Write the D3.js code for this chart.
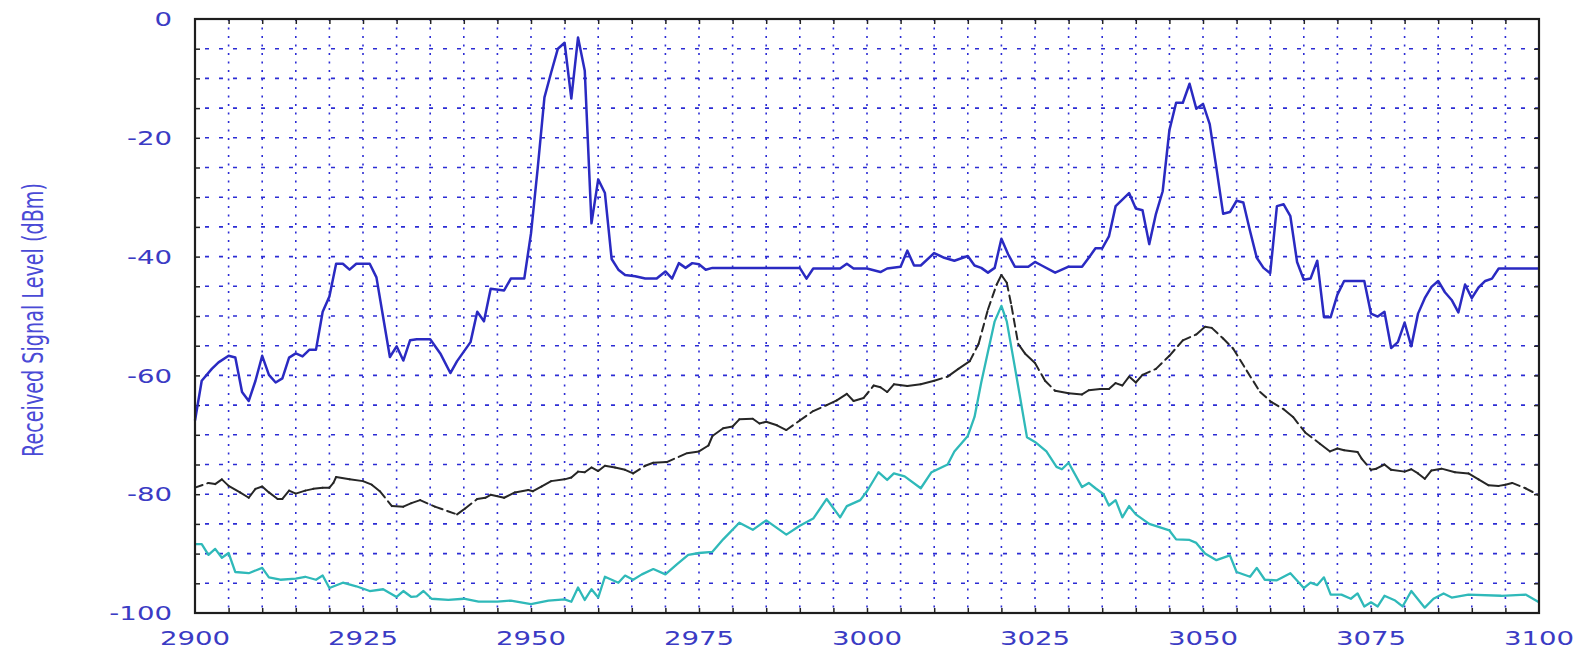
<!DOCTYPE html>
<html>
<head>
<meta charset="utf-8">
<script src="https://cdn.jsdelivr.net/npm/d3@7"></script>
<style>
  body { margin: 0; background: #fff; }
  svg { display: block; }
</style>
</head>
<body>
<div id="chart"></div>
<script>
// frequency (MHz), level (dBm)
const bluePts = [
  [2900,-67.6],[2901,-60.9],[2902.5,-58.9],[2903.5,-57.8],[2905,-56.7],[2906,-57.0],[2907,-62.8],[2908,-64.3],
  [2909,-60.9],[2910,-56.7],[2911,-59.9],[2912,-61.2],[2913,-60.5],[2914,-57.0],[2915,-56.3],[2916,-56.8],
  [2917,-55.7],[2918,-55.7],[2919,-49.3],[2920,-46.7],[2921,-41.2],[2922,-41.2],[2923,-42.2],[2924,-41.2],
  [2926,-41.2],[2927,-43.5],[2928,-50.2],[2929,-56.9],[2930,-55.1],[2931,-57.5],[2932,-54.1],[2933,-53.9],
  [2935,-53.9],[2936.5,-56.3],[2938,-59.6],[2939,-57.6],[2941,-54.4],[2942,-49.3],[2943,-50.9],[2944,-45.4],
  [2946,-45.7],[2947,-43.7],[2949,-43.7],[2950,-36.1],[2951,-25.1],[2952,-13.2],[2953,-9.0],[2954,-5.0],
  [2955,-4.0],[2956,-13.4],[2957,-3.1],[2958,-8.7],[2959,-34.4],[2960,-27.0],[2961,-29.3],[2962,-40.4],
  [2963,-42.2],[2964,-43.1],[2965.5,-43.3],[2967,-43.7],[2968.7,-43.7],[2970,-42.5],[2971,-43.7],[2972,-41.1],
  [2973,-41.9],[2974,-41.1],[2975,-41.3],[2976,-42.2],[2977,-41.9],[2990,-41.9],[2991,-43.7],[2992,-42.0],
  [2996,-42.0],[2997,-41.2],[2998,-42.0],[3000,-42.0],[3002,-42.6],[3003,-42.0],[3005,-41.7],[3006,-39.0],
  [3007,-41.5],[3008,-41.5],[3010,-39.4],[3011.5,-40.2],[3013,-40.7],[3015,-39.9],[3016,-41.5],[3017,-41.9],
  [3018,-42.7],[3019,-41.9],[3020,-37.0],[3021,-39.6],[3022,-41.7],[3024,-41.7],[3025,-40.9],[3026,-41.5],
  [3028,-42.7],[3030,-41.7],[3032,-41.7],[3033,-40.2],[3034,-38.6],[3035,-38.6],[3036,-36.6],[3037,-31.5],
  [3039,-29.3],[3040,-31.9],[3041,-32.2],[3042,-37.9],[3043,-32.8],[3044,-29.0],[3045,-18.7],[3046,-14.1],
  [3047,-14.1],[3048,-10.9],[3049,-15.1],[3050,-14.3],[3051,-17.7],[3052,-25.1],[3053,-32.8],[3054,-32.5],
  [3055,-30.6],[3056,-30.9],[3057,-35.7],[3058,-40.2],[3059,-41.9],[3060,-42.8],[3061,-31.5],[3062,-31.2],
  [3063,-33.2],[3064,-40.9],[3065,-43.9],[3066,-43.7],[3067,-40.7],[3068,-50.2],[3069,-50.2],[3070,-46.4],
  [3071,-44.1],[3074,-44.1],[3075,-49.6],[3076,-50.1],[3077,-49.3],[3078,-55.4],[3079,-54.4],[3080,-51.1],
  [3081,-55.1],[3082,-49.6],[3083,-47.0],[3084,-45.1],[3085,-44.1],[3086,-46.0],[3087,-47.3],[3088,-49.4],
  [3089,-44.7],[3090,-47.0],[3091,-45.2],[3092,-44.1],[3093,-43.7],[3094,-42.0],[3100,-42.0]
];

const blackPts = [
  [2900,-78.9],[2902,-78.1],[2903,-78.3],[2904,-77.5],[2905,-78.6],[2906.7,-79.7],[2908,-80.6],[2909,-79.1],
  [2910,-78.7],[2911,-79.7],[2912.3,-80.8],[2913,-80.8],[2914,-79.4],[2915,-79.9],[2916.4,-79.4],[2917.6,-79.1],
  [2919,-78.9],[2920,-78.9],[2920.6,-78.1],[2921,-77.1],[2923,-77.5],[2925,-77.8],[2926.3,-78.4],[2927.5,-79.5],
  [2929.3,-82.0],[2931,-82.1],[2932.2,-81.5],[2933.5,-81.0],[2935.7,-82.1],[2939,-83.4],[2940.2,-82.4],[2942,-80.8],
  [2943.2,-80.6],[2944,-80.1],[2946,-80.6],[2947.6,-79.7],[2949.6,-79.3],[2950.3,-79.5],[2951.6,-78.7],[2953,-77.8],
  [2955,-77.5],[2956,-77.2],[2957,-76.2],[2958,-76.3],[2959,-75.5],[2960,-76.1],[2961,-75.2],[2962.5,-75.5],
  [2964,-75.9],[2965.2,-76.5],[2967,-75.2],[2968.2,-74.7],[2970.2,-74.6],[2973.2,-73.1],[2975,-72.8],[2976.4,-71.8],
  [2977,-70.2],[2978.6,-68.9],[2980,-68.6],[2981,-67.4],[2983,-67.3],[2984,-68.1],[2985,-67.8],[2986.6,-68.4],
  [2988,-69.2],[2990,-67.6],[2992,-66.0],[2994,-65.0],[2995.5,-64.2],[2997,-63.1],[2998,-64.3],[2999.5,-63.8],
  [3001,-61.7],[3002,-62.0],[3003,-62.8],[3004,-61.5],[3006,-61.8],[3008,-61.5],[3010,-60.9],[3012,-60.2],
  [3013.6,-58.9],[3015.3,-57.6],[3016.6,-54.7],[3018,-48.9],[3019.3,-44.7],[3020,-43.1],[3020.8,-44.4],[3021.5,-48.3],
  [3022.5,-54.7],[3023.5,-56.3],[3025,-57.9],[3026.5,-60.9],[3028,-62.6],[3030,-63.0],[3032,-63.2],[3033,-62.5],
  [3034.7,-62.3],[3036,-62.3],[3037,-61.3],[3038,-61.7],[3039,-60.2],[3040,-61.2],[3041,-59.9],[3043,-58.9],
  [3045,-56.7],[3047,-54.1],[3049,-53.1],[3050.3,-51.8],[3051.3,-52.0],[3053,-53.8],[3054.5,-55.5],[3056.5,-59.2],
  [3058.5,-62.8],[3060.2,-64.5],[3062,-65.7],[3063.4,-67.0],[3065.2,-69.6],[3067.4,-71.5],[3068.9,-72.8],[3070,-72.3],
  [3071,-72.6],[3073,-72.9],[3073.6,-74.0],[3075,-75.9],[3075.8,-75.7],[3077,-75.0],[3078,-75.9],[3080,-76.2],
  [3081,-75.8],[3082,-76.5],[3083,-77.4],[3084,-76.0],[3085.5,-75.7],[3087.5,-76.3],[3089.5,-76.5],[3091,-77.5],
  [3092.5,-78.5],[3094,-78.6],[3095,-78.4],[3096,-78.1],[3098,-79.0],[3100,-80.2]
];

const cyanPts = [
  [2900,-88.4],[2901,-88.4],[2902,-90.2],[2903,-89.2],[2904,-90.7],[2905,-89.9],[2906,-93.1],[2908,-93.3],
  [2910,-92.4],[2911,-94.0],[2912.7,-94.4],[2915,-94.2],[2916.4,-93.9],[2918,-94.4],[2919,-93.7],[2920,-95.8],
  [2922,-94.9],[2924,-95.5],[2926,-96.3],[2928,-96.0],[2930,-97.3],[2931,-96.3],[2932.2,-97.3],[2933,-97.2],
  [2934,-96.3],[2935.2,-97.6],[2937.7,-97.8],[2940,-97.6],[2942.2,-98.1],[2945,-98.1],[2947,-97.9],[2950,-98.5],
  [2952.6,-97.9],[2955,-97.7],[2956,-98.1],[2957,-95.7],[2958,-97.8],[2959,-96.0],[2960,-97.4],[2961,-93.9],
  [2963,-94.9],[2964,-93.7],[2965.2,-94.4],[2966.5,-93.5],[2968.2,-92.6],[2970,-93.5],[2971.7,-91.8],[2973.4,-90.2],
  [2975,-89.9],[2977,-89.7],[2978.6,-87.6],[2981,-84.8],[2983,-86.0],[2985,-84.4],[2988,-86.8],[2990,-85.3],
  [2992,-84.1],[2994,-80.8],[2996,-83.9],[2997,-82.0],[2999,-81.0],[3000,-79.5],[3001.7,-76.3],[3003,-77.6],
  [3004,-76.5],[3005.6,-77.0],[3008,-79.0],[3009.6,-76.3],[3012,-75.0],[3013,-72.8],[3015,-70.2],[3016,-67.0],
  [3017,-61.2],[3018,-56.0],[3019,-50.9],[3020,-48.3],[3020.8,-50.9],[3021.8,-57.3],[3022.8,-63.8],[3023.8,-70.4],
  [3025,-71.2],[3026.7,-72.8],[3028.2,-75.4],[3029,-75.8],[3030,-74.7],[3032,-78.8],[3033,-78.1],[3034,-79.0],
  [3035.2,-80.0],[3036,-81.9],[3037,-81.0],[3038,-83.9],[3039,-82.0],[3040,-83.4],[3042,-85.0],[3045,-86.1],
  [3046,-87.6],[3048,-87.7],[3049,-88.2],[3050.3,-90.0],[3052,-91.1],[3054,-90.3],[3055,-93.1],[3057,-93.9],
  [3058,-92.4],[3059.2,-94.4],[3061,-94.5],[3063,-93.3],[3065,-95.8],[3066,-94.9],[3067,-95.3],[3068,-94.0],
  [3069,-96.9],[3070.6,-96.9],[3072,-97.6],[3073,-96.7],[3074,-98.9],[3075,-98.2],[3076,-98.9],[3077,-97.1],
  [3078.6,-97.9],[3079.7,-98.9],[3081,-96.3],[3083,-99.1],[3084.3,-97.6],[3085.8,-96.7],[3087,-97.4],[3089.5,-96.9],
  [3094.4,-97.1],[3098,-96.9],[3100,-98.2]
];

const xLabels = [2900, 2925, 2950, 2975, 3000, 3025, 3050, 3075, 3100];
const yLabels = [0, -20, -40, -60, -80, -100];
const yTitle = 'Received Signal Level (dBm)';

let width = 1581, height = 650;
let plotL = 195, plotR = 1539, plotT = 19, plotB = 613;
let labelColor = '#3b3bc4';
let gridColor = '#2c2cd4';

let svg = d3.select('#chart').append('svg')
  .attr('width', width)
  .attr('height', height);

let x = d3.scaleLinear().domain([2900, 3100]).range([plotL, plotR]);
let y = d3.scaleLinear().domain([-100, 0]).range([plotB, plotT]);

// grid: vertical dotted every 5 MHz, horizontal dashed every 5 dB
let xGrid = d3.range(2905, 3100, 5);
let yGrid = d3.range(-95, 0, 5);

svg.append('g').selectAll('line')
  .data(xGrid)
  .join('line')
  .attr('x1', d => x(d)).attr('x2', d => x(d))
  .attr('y1', plotT).attr('y2', plotB)
  .attr('stroke', gridColor)
  .attr('stroke-width', 1.6)
  .attr('stroke-dasharray', '2,6.5');

svg.append('g').selectAll('line')
  .data(yGrid)
  .join('line')
  .attr('x1', plotL).attr('x2', plotR)
  .attr('y1', d => y(d)).attr('y2', d => y(d))
  .attr('stroke', gridColor)
  .attr('stroke-width', 1.6)
  .attr('stroke-dasharray', '4,10')
  .attr('stroke-dashoffset', -10);

// inward ticks on all four sides
let tickLen = 5;
let axes = [
  d3.axisLeft(y).tickValues(yGrid).tickSize(-tickLen),
  d3.axisRight(y).tickValues(yGrid).tickSize(-tickLen),
  d3.axisTop(x).tickValues(xGrid).tickSize(-tickLen),
  d3.axisBottom(x).tickValues(xGrid).tickSize(-tickLen)
];
let axisPos = [[plotL, 0], [plotR, 0], [0, plotT], [0, plotB]];
axes.forEach((ax, i) => {
  let g = svg.append('g')
    .attr('transform', 'translate(' + axisPos[i][0] + ',' + axisPos[i][1] + ')')
    .call(ax.tickFormat(''));
  g.select('.domain').remove();
  g.selectAll('line').attr('stroke', '#222').attr('stroke-width', 1.5);
});

// series lines
let line = d3.line().x(d => x(d[0])).y(d => y(d[1]));

svg.append('path')
  .datum(cyanPts)
  .attr('d', line)
  .attr('fill', 'none')
  .attr('stroke', '#2fb9b9')
  .attr('stroke-width', 2.3)
  .attr('stroke-linejoin', 'round');

// the black trace restarts its dash on each segment, so only long (steep) segments show gaps
let segs = d3.pairs(blackPts);
svg.append('g').selectAll('line')
  .data(segs)
  .join('line')
  .attr('x1', d => x(d[0][0])).attr('y1', d => y(d[0][1]))
  .attr('x2', d => x(d[1][0])).attr('y2', d => y(d[1][1]))
  .attr('stroke', '#262626')
  .attr('stroke-width', 2)
  .attr('stroke-linecap', 'round')
  .attr('stroke-dasharray', d => {
    let len = Math.hypot(x(d[1][0]) - x(d[0][0]), y(d[1][1]) - y(d[0][1]));
    return len > 14 ? '8,5' : null;
  });

svg.append('path')
  .datum(bluePts)
  .attr('d', line)
  .attr('fill', 'none')
  .attr('stroke', '#2a2ac2')
  .attr('stroke-width', 2.5)
  .attr('stroke-linejoin', 'round');

// frame
svg.append('rect')
  .attr('x', plotL).attr('y', plotT)
  .attr('width', plotR - plotL).attr('height', plotB - plotT)
  .attr('fill', 'none')
  .attr('stroke', '#1e1e1e')
  .attr('stroke-width', 2.2);

// tick labels, wide face -> stretch DejaVu horizontally
svg.append('g').selectAll('g')
  .data(yLabels)
  .join('g')
  .attr('transform', d => 'translate(' + (plotL - 23) + ',' + y(d) + ') scale(1.38,1)')
  .append('text')
  .attr('text-anchor', 'end')
  .attr('dy', '0.36em')
  .attr('font-family', 'DejaVu Sans')
  .attr('font-size', 20)
  .attr('fill', labelColor)
  .text(d => d);

svg.append('g').selectAll('g')
  .data(xLabels)
  .join('g')
  .attr('transform', d => 'translate(' + x(d) + ',' + 645 + ') scale(1.38,1)')
  .append('text')
  .attr('text-anchor', 'middle')
  .attr('font-family', 'DejaVu Sans')
  .attr('font-size', 20)
  .attr('fill', labelColor)
  .text(d => d);

// axis title, tall and condensed
svg.append('text')
  .attr('transform', 'translate(43,' + ((plotT + plotB) / 2 + 4) + ') rotate(-90)')
  .attr('text-anchor', 'middle')
  .attr('font-family', 'DejaVu Sans')
  .attr('font-size', 29)
  .attr('textLength', 274)
  .attr('lengthAdjust', 'spacingAndGlyphs')
  .attr('fill', '#4a4ad6')
  .text(yTitle);
</script>
</body>
</html>
